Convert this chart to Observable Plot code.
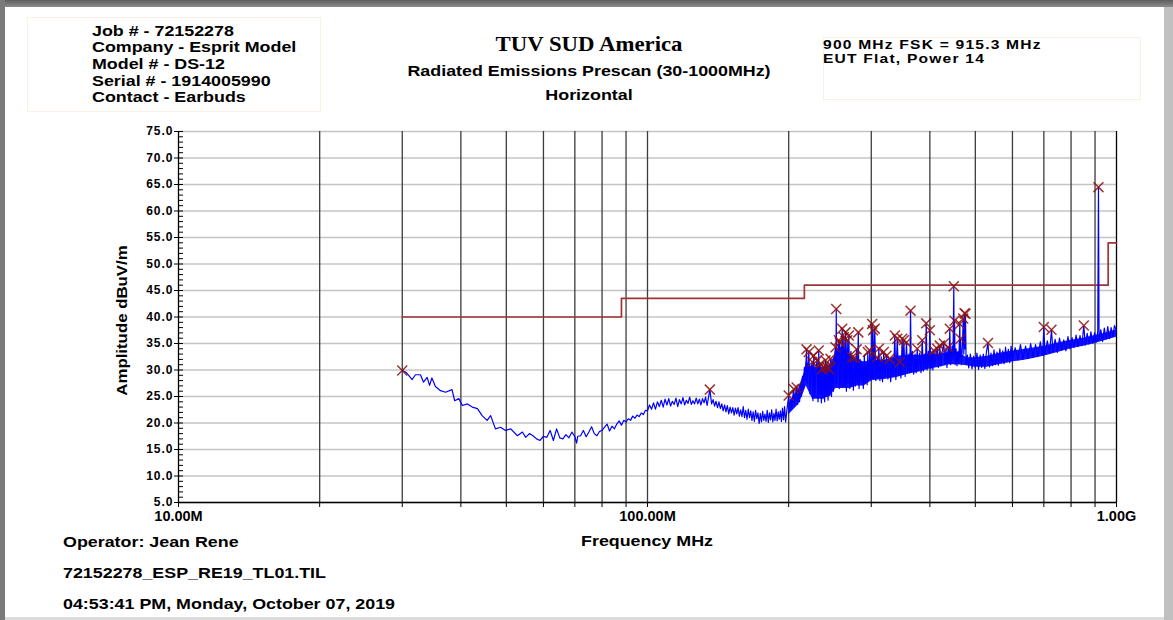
<!DOCTYPE html>
<html>
<head>
<meta charset="utf-8">
<script src="https://cdn.jsdelivr.net/npm/d3@7"></script>
<script src="https://cdn.jsdelivr.net/npm/@observablehq/plot@0.6"></script>
<style>
html, body { margin: 0; padding: 0; background: #fff; }
#page { position: relative; width: 1173px; height: 620px; overflow: hidden; background: #fff;
  font-family: "Liberation Sans", Arial, sans-serif; font-weight: bold; color: #000; }
.t { position: absolute; white-space: nowrap; font-size: 15px; line-height: 17px; transform-origin: 0 50%; transform: scaleX(1.19); }
.c { text-align: center; transform-origin: 50% 50%; }
.box { position: absolute; border: 1px solid #fbf1e2; }
.frame { position: absolute; }
#chart { position: absolute; left: 0; top: 120px; }
</style>
</head>
<body>
<div id="page">
  <div class="frame" style="left:0;top:0;width:1173px;height:7px;background:linear-gradient(#5e5e5e,#8c8c8c);"></div>
  <div class="frame" style="left:0;top:0;width:5px;height:620px;background:#7a7a7a;"></div>
  <div class="frame" style="left:1164px;top:7px;width:9px;height:613px;background:#c0c0c0;"></div>
  <div class="frame" style="left:5px;top:617px;width:1159px;height:3px;background:#dcdcdc;"></div>

  <div class="box" style="left:27px;top:17px;width:292px;height:93px;"></div>
  <div class="box" style="left:823px;top:37px;width:316px;height:61px;"></div>

  <div class="t" style="left:92px;top:22.5px;line-height:16.7px;">Job # - 72152278<br>Company - Esprit Model<br>Model # - DS-12<br>Serial # - 1914005990<br>Contact - Earbuds</div>

  <div class="t c" style="left:389px;width:400px;top:31.5px;font-family:'Liberation Serif','Times New Roman',serif;font-size:21.5px;line-height:24px;transform:scaleX(1.06);">TUV SUD America</div>
  <div class="t c" style="left:389px;width:400px;top:61.7px;">Radiated Emissions Prescan (30-1000MHz)</div>
  <div class="t c" style="left:489px;width:200px;top:85.7px;">Horizontal</div>

  <div class="t" style="left:823px;top:37.5px;font-size:13px;letter-spacing:1px;line-height:14.6px;transform:scaleX(1.2);">900 MHz FSK = 915.3 MHz<br>EUT Flat, Power 14</div>

  <div class="t" style="left:41px;width:160px;top:311.5px;text-align:center;transform-origin:50% 50%;transform:rotate(-90deg) scaleX(1.12);">Amplitude dBuV/m</div>

  <div id="chart"></div>

  <div class="t" style="left:63px;top:532.5px;">Operator: Jean Rene</div>
  <div class="t c" style="left:547px;width:200px;top:532px;">Frequency MHz</div>
  <div class="t" style="left:63px;top:564.2px;">72152278_ESP_RE19_TL01.TIL</div>
  <div class="t" style="left:63px;top:594.7px;">04:53:41 PM, Monday, October 07, 2019</div>
</div>
<script>
// ---- data (frequency in MHz, amplitude in dBuV/m) ----
const yTicks = [5, 10, 15, 20, 25, 30, 35, 40, 45, 50, 55, 60, 65, 70, 75];
const xGridFreqs = [20, 30, 40, 50, 60, 70, 80, 90, 100, 200, 300, 400, 500, 600, 700, 800, 900];
const xLabelFreqs = [10, 100, 1000];
const xTickLabels = ["10.00M", "100.00M", "1.00G"];

const limitFreq = [30, 88, 216, 960, 1000];
const limitAmp = [40, 43.5, 46, 54, 54];

// solid part of the dense noise band above 200 MHz (lower / upper edge)
const bandFreq = [200, 210, 216, 218, 225, 235, 245, 252, 260, 270, 280, 290, 300, 320, 340, 360, 380, 400, 420, 440, 460, 480, 500, 530, 560, 600, 650, 700, 750, 800, 850, 900, 950, 1000];
const bandLow  = [21.5, 23.5, 26.0, 27.0, 24.5, 24.5, 25.0, 26.5, 26.5, 26.5, 27.0, 27.0, 28.0, 28.2, 28.6, 29.2, 29.6, 30.2, 30.5, 31.0, 31.0, 30.8, 30.5, 30.5, 31.0, 31.5, 32.0, 32.6, 33.3, 34.0, 34.5, 35.0, 35.6, 36.2];
const bandHigh = [23.5, 26.5, 29.5, 31.5, 30.5, 30.5, 31.0, 33.0, 34.5, 33.0, 32.0, 31.5, 31.8, 31.8, 32.6, 32.8, 32.8, 33.0, 33.0, 33.3, 33.3, 32.3, 32.3, 32.6, 33.1, 33.6, 34.0, 34.5, 35.1, 35.6, 36.0, 36.5, 37.0, 37.6];

const peaks = [
  [30.0, 29.9], [135.8, 26.3], [200.0, 25.2], [205.1, 26.4], [208.0, 26.7], [218.3, 33.9],
  [220.8, 33.4], [224.5, 31.5], [226.2, 32.7], [230.0, 31.8], [231.8, 33.7], [233.8, 31.2],
  [235.8, 30.2], [237.7, 30.5], [239.6, 31.8], [241.6, 30.5], [243.6, 30.2], [245.6, 32.1],
  [251.7, 34.3], [252.6, 41.5], [255.8, 35.6], [257.1, 35.2], [260.1, 37.8], [262.2, 36.2],
  [264.4, 37.1], [266.6, 35.6], [268.7, 36.5], [273.3, 32.4], [276.4, 32.3], [279.1, 33.9],
  [281.5, 37.1], [294.9, 33.4], [297.8, 33.7], [301.3, 38.7], [302.6, 37.5], [305.2, 37.8],
  [308.8, 32.4], [311.3, 34.0], [319.0, 33.4], [323.3, 32.7], [328.1, 32.1], [336.8, 36.5],
  [340.8, 35.9], [345.1, 31.5], [349.2, 35.9], [352.0, 35.6], [356.6, 35.2], [363.8, 41.2],
  [375.9, 34.0], [385.3, 35.6], [392.9, 38.8], [399.9, 37.5], [407.8, 33.7], [414.7, 34.0],
  [420.0, 34.6], [428.3, 35.0], [437.6, 34.3], [441.1, 37.8], [449.9, 45.8], [451.5, 39.3],
  [463.4, 38.7], [465.0, 35.9], [471.2, 39.7], [474.2, 40.7], [476.4, 40.6], [532.1, 35.1],
  [699.8, 38.1], [726.7, 37.6], [851.7, 38.4], [915.3, 64.5]
];

const sweepLow = [
  [30.0, 29.9], [30.6, 29.5], [31.5, 28.2], [32.0, 29.1], [32.8, 29.1], [33.3, 27.7], [33.9, 28.6],
  [34.3, 27.1], [34.7, 28.5], [35.3, 26.9], [36.2, 26.1], [37.1, 25.8], [38.3, 26.3], [38.8, 24.2],
  [39.6, 24.6], [40.3, 23.3], [41.3, 23.6], [42.3, 23.0], [43.4, 22.7], [44.4, 21.4], [45.5, 20.5],
  [46.3, 21.4], [47.4, 18.9], [48.6, 19.2], [49.8, 18.6], [51.1, 18.9], [52.8, 17.6], [54.1, 18.3],
  [55, 17.3], [56, 18.0], [57, 17.6], [58, 17.0], [59, 16.7], [60, 17.5], [61, 17.3], [62, 18.6],
  [63, 16.7], [64, 18.9], [65, 17.2], [66, 17.0], [67, 17.8], [68, 17.2], [69, 18.3], [70, 17.4],
  [70.6, 16.2], [71, 17.5], [72, 17.6], [73, 18.6], [74, 17.4], [75, 18.3], [76, 19.3], [77, 18.0],
  [78, 17.6], [79, 18.4], [80, 18.6], [81, 19.2], [82, 19.8], [83, 18.5], [84, 19.4], [85, 18.9],
  [86, 19.8], [87, 20.4], [88, 19.6], [89, 20.5], [90, 20.2], [91, 20.8], [92, 20.5], [93, 21.3],
  [94, 20.9], [95, 21.5], [96, 21.2], [97, 21.9], [98, 21.6], [99, 22.4], [100, 22.3],
  [101, 23.4], [102, 22.6], [103, 23.8], [104, 22.6], [105, 24.0], [106, 23.1], [107, 24.3],
  [108, 23.0], [109, 24.5], [110, 23.4], [111, 24.6], [112, 23.2], [113, 24.1], [114, 23.5],
  [115, 24.7], [116, 23.1], [117, 24.4], [118, 23.6], [119, 24.8], [120, 23.4], [121, 24.3],
  [122, 23.7], [123, 24.9], [124, 23.5], [125, 24.2], [126, 23.6], [127, 24.7], [128, 23.6],
  [129, 24.5], [130, 23.4], [131, 24.6], [132, 23.8], [133, 24.9], [134, 23.3], [137, 23.6],
  [138, 24.4], [139, 23.2], [140, 24.1], [141, 22.9], [142, 24.0], [143, 22.7], [144, 23.6],
  [145, 22.3], [146, 23.4], [147, 22.1], [148, 23.3], [149, 21.7], [150, 23.0], [151, 21.9],
  [152, 22.9], [153, 21.5], [154, 22.8], [155, 21.7], [156, 22.9], [157, 21.3], [158, 22.5],
  [159, 21.2], [160, 23.1], [161, 21.0], [162, 22.4], [163, 20.7], [164, 22.6], [165, 21.0],
  [166, 22.3], [167, 20.5], [168, 22.1], [169, 20.3], [170, 22.4], [171, 20.8], [172, 21.9],
  [173, 19.9], [174, 21.8], [175, 20.2], [176, 22.2], [177, 20.5], [178, 21.7], [179, 20.3],
  [180, 22.4], [181, 20.1], [182, 21.9], [183, 20.6], [184, 22.5], [185, 20.2], [186, 21.8],
  [187, 20.5], [188, 22.6], [189, 20.4], [190, 22.1], [191, 20.7], [192, 22.3], [193, 20.3],
  [194, 22.8], [195, 20.6], [196, 23.1], [197, 20.2], [198.6, 23.0]
];

const sweepHigh = [
  [201, 22.5], [202, 24.5], [203, 22.8], [204, 25.0], [206, 23.2], [207, 25.5], [209, 23.5],
  [210, 26.0], [211, 24.0], [212, 27.5], [213, 25.0], [214, 28.8], [215, 26.5], [216, 30.5],
  [217, 28.0], [219, 27.5], [222, 25.5], [223.5, 30.5], [225.3, 24.2], [227.5, 25.0], [228.8, 30.8],
  [231, 24.0], [232.8, 25.5], [234.8, 23.8], [236.7, 24.6], [238.6, 24.0], [240.6, 25.0],
  [242.6, 24.3], [244.6, 25.2], [246.8, 25.0], [248, 31.5], [249.2, 26.0], [250.5, 32.8],
  [252.1, 27.0], [253.2, 27.5], [254.5, 33.5], [256.4, 26.5], [258.5, 27.0], [261.1, 26.8],
  [263.3, 27.2], [265.5, 26.0], [267.6, 27.5], [270, 26.5], [271.5, 33.5], [272.4, 27.0],
  [274.8, 26.2], [277.7, 27.0], [280.2, 27.5], [282.5, 26.5], [284, 32.0], [285.5, 27.8],
  [287, 31.5], [288.5, 26.5], [290, 32.8], [291.5, 27.5], [293, 31.0], [294, 27.2], [296.3, 27.8],
  [299.5, 28.0], [302, 28.5], [303.8, 28.2], [306.8, 28.0], [310, 28.5], [313, 28.0], [315, 32.5],
  [317, 27.8], [321, 28.6], [325.5, 28.3], [330, 27.8], [332, 32.0], [334.5, 28.8], [338.5, 28.2],
  [343, 29.0], [347, 28.5], [350.5, 29.2], [354.3, 28.8], [358.5, 29.5], [361, 33.0], [362.5, 29.5],
  [365, 29.8], [367, 33.5], [369.5, 29.2], [372, 33.0], [374, 29.5], [378, 30.0], [380.5, 33.2],
  [383, 29.5], [387.5, 29.8], [390, 33.0], [391.5, 30.5], [394.5, 30.0], [397, 33.5], [398.5, 30.8],
  [402, 30.2], [404.5, 33.5], [406, 30.0], [410, 30.8], [412.5, 33.0], [417, 30.5], [422, 30.8],
  [425, 33.5], [430.5, 31.0], [433, 34.2], [435, 30.5], [439.5, 31.2], [443, 31.0], [446, 34.5],
  [448, 32.0], [450.6, 33.0], [453, 31.0], [455, 34.0], [457, 30.8], [459, 33.5], [461, 31.2],
  [464.2, 32.5], [467, 31.0], [469, 34.0], [472.5, 33.0], [475.3, 34.0], [478, 31.0], [481, 32.8],
  [484, 30.4], [488, 33.0], [492, 30.2], [496, 32.6], [500, 30.4], [504, 33.2], [508, 30.1],
  [512, 32.8], [516, 30.5], [520, 33.0], [524, 30.3], [528, 33.4], [536, 30.6], [540, 33.2],
  [544, 30.8], [548, 33.8], [552, 31.0], [556, 33.4], [560, 30.9], [564, 34.0], [568, 31.3],
  [572, 33.6], [576, 31.2], [580, 34.3], [584, 31.5], [588, 33.9], [592, 31.4], [596, 34.5],
  [600, 31.7], [608, 34.2], [616, 31.9], [624, 34.8], [632, 32.0], [640, 34.5], [648, 32.2],
  [656, 35.0], [664, 32.4], [672, 34.8], [680, 32.5], [688, 35.3], [696, 32.8], [704, 33.0],
  [712, 35.5], [720, 33.2], [732, 33.4], [740, 35.8], [748, 33.3], [756, 36.0], [764, 33.8],
  [772, 35.7], [780, 33.6], [788, 36.3], [796, 34.0], [804, 36.1], [812, 34.2], [820, 36.6],
  [828, 34.4], [836, 36.5], [844, 34.6], [858, 34.7], [866, 36.9], [874, 34.9], [882, 37.2],
  [890, 35.0], [898, 37.0], [906, 35.3], [912, 37.3], [918, 35.6], [926, 37.6], [934, 35.4],
  [942, 37.9], [950, 35.8], [958, 38.2], [966, 35.9], [974, 38.0], [982, 36.3], [990, 38.4],
  [1000, 37.3]
];

// ---- build tables ----
const toRow = ([f, a]) => ({f, a});
const trace = [...sweepLow, ...sweepHigh, ...peaks].map(toRow).sort((p, q) => p.f - q.f);
const peakRows = peaks.map(toRow);
const limit = limitFreq.map((f, i) => ({f, a: limitAmp[i]}));
const band = bandFreq.map((f, i) => ({f, lo: bandLow[i], hi: bandHigh[i]}));
const labelMap = new Map(xLabelFreqs.map((f, i) => [f, xTickLabels[i]]));
const yMinor = d3.range(5, 75.5, 1);
const xTickAll = [10, ...xGridFreqs, 1000];

const chart = Plot.plot({
  width: 1173,
  height: 415,
  marginLeft: 178,
  marginRight: 57,
  marginTop: 11,
  marginBottom: 33,
  style: {fontFamily: "'Liberation Sans', Arial, sans-serif", fontWeight: "bold", fontSize: "13px", color: "#000", background: "transparent", overflow: "visible"},
  x: {type: "log", domain: [10, 1000], axis: null},
  y: {domain: [5, 75], axis: null},
  marks: [
    Plot.ruleY(yTicks, {stroke: "#c4c4c4", strokeWidth: 1.6}),
    Plot.ruleX(xGridFreqs, {stroke: "#3c3c3c", strokeWidth: 1.3}),
    Plot.ruleX([1000], {stroke: "#000", strokeWidth: 1.3}),
    Plot.line(limit, {x: "f", y: "a", curve: "step-after", stroke: "#9e3434", strokeWidth: 1.7}),
    Plot.areaY(band, {x: "f", y1: "lo", y2: "hi", fill: "#0000ff", fillOpacity: 0.92}),
    Plot.line(trace, {x: "f", y: "a", stroke: "#0000ff", strokeWidth: 1.2}),
    Plot.dot(peakRows, {x: "f", y: "a", symbol: "times", r: 4.6, stroke: "#8b1010", strokeWidth: 1.5, strokeOpacity: 0.85}),
    Plot.ruleY([5], {stroke: "#000", strokeWidth: 1.3}),
    Plot.ruleX([10], {stroke: "#000", strokeWidth: 1.3}),
    Plot.axisY(yTicks, {tickSize: 0, tickPadding: 5, tickFormat: d => d.toFixed(1), fontSize: 12, label: null}),
    Plot.axisY(yTicks, {tickSize: 4, tickFormat: () => "", label: null}),
    Plot.axisY(yMinor, {tickSize: -5, tickFormat: () => "", label: null}),
    Plot.axisX(xTickAll, {tickSize: 5, tickFormat: () => "", label: null}),
    Plot.axisX(xLabelFreqs, {tickSize: 0, tickPadding: 8.5, tickFormat: d => labelMap.get(d), fontSize: 14.5, label: null})
  ]
});
chart.querySelectorAll('[aria-label="y-axis tick label"]').forEach(g => g.style.letterSpacing = "1px");
document.getElementById("chart").appendChild(chart);
</script>
</body>
</html>
